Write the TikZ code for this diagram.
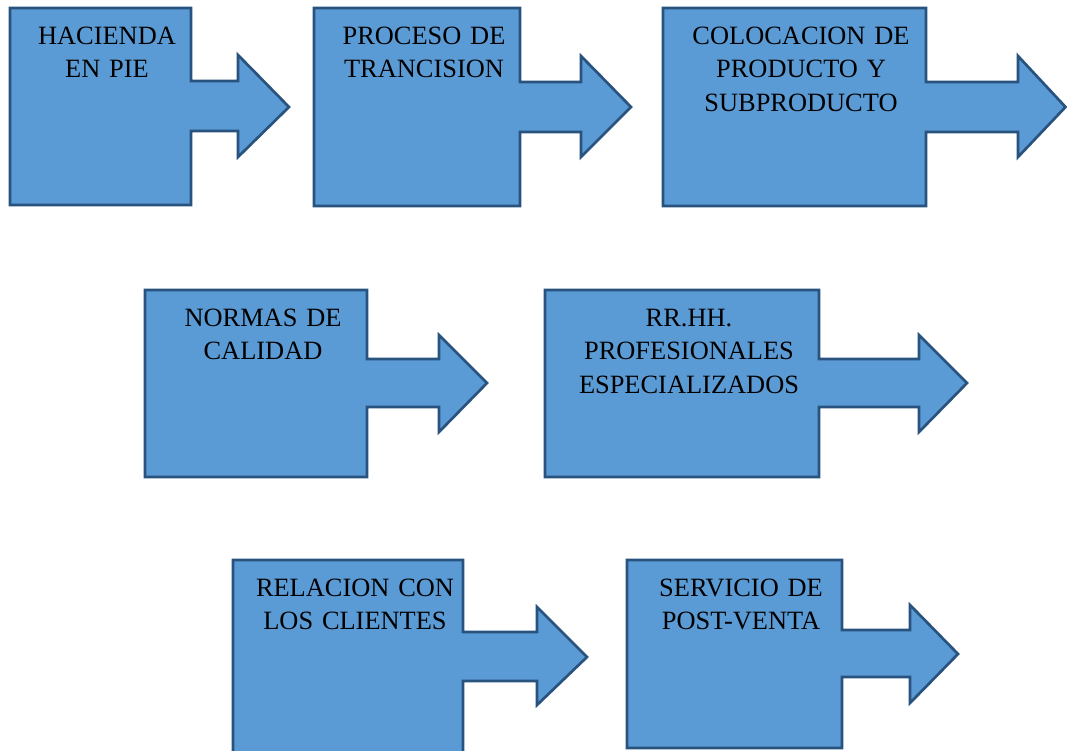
\documentclass[tikz,border=0pt]{standalone}
\usepackage{fontspec}
\setmainfont{Liberation Serif}
\definecolor{boxfill}{HTML}{5B9BD5}
\definecolor{boxline}{HTML}{29537F}
\tikzset{
  callout/.style={fill=boxfill,draw=boxline,line width=2.7pt,line join=miter},
  label/.style={anchor=base,text width=260pt,align=center,inner sep=0pt,
    font=\fontsize{26.4}{33.5}\selectfont,text=black}
}
\begin{document}
\begin{tikzpicture}[x=1pt,y=-1pt]
\useasboundingbox (0,0) rectangle (1067,750);
% shape 1
\draw[callout] (10,8) -- (191,8) -- (191,81) -- (238,81) -- (238,55) -- (289,107)
  -- (238,157) -- (238,131) -- (191,131) -- (191,205) -- (10,205) -- cycle;
\node[label] (t1) at (107,44) {HACIENDA\\EN PIE};
% shape 2
\draw[callout] (314,8) -- (520,8) -- (520,82) -- (581,82) -- (581,56) -- (631,107)
  -- (581,157) -- (581,132) -- (520,132) -- (520,206) -- (314,206) -- cycle;
\node[label] (t2) at (424,44) {PROCESO DE\\TRANCISION};
% shape 3
\draw[callout] (663,8) -- (926,8) -- (926,82) -- (1018,82) -- (1018,56) -- (1065.5,107)
  -- (1018,157) -- (1018,132) -- (926,132) -- (926,206) -- (663,206) -- cycle;
\node[label] (t3) at (801,44) {COLOCACION DE\\PRODUCTO Y\\SUBPRODUCTO};
% shape 4
\draw[callout] (145,290) -- (367,290) -- (367,359) -- (439,359) -- (439,335) -- (487,383)
  -- (439,432) -- (439,407) -- (367,407) -- (367,477) -- (145,477) -- cycle;
\node[label] (t4) at (263,326) {NORMAS DE\\CALIDAD};
% shape 5
\draw[callout] (545,290) -- (819,290) -- (819,359) -- (919,359) -- (919,335) -- (967,383)
  -- (919,432) -- (919,407) -- (819,407) -- (819,477) -- (545,477) -- cycle;
\node[label] (t5) at (689,326) {RR.HH.\\PROFESIONALES\\ESPECIALIZADOS};
% shape 6
\draw[callout] (233,560) -- (463,560) -- (463,632) -- (537,632) -- (537,607) -- (587,657)
  -- (537,705) -- (537,681) -- (463,681) -- (463,760) -- (233,760) -- cycle;
\node[label] (t6) at (355,596) {RELACION CON\\LOS CLIENTES};
% shape 7
\draw[callout] (627,560) -- (842,560) -- (842,630) -- (910,630) -- (910,605) -- (958,654)
  -- (910,703) -- (910,677) -- (842,677) -- (842,748) -- (627,748) -- cycle;
\node[label] (t7) at (741,596) {SERVICIO DE\\POST-VENTA};
\end{tikzpicture}
\end{document}
